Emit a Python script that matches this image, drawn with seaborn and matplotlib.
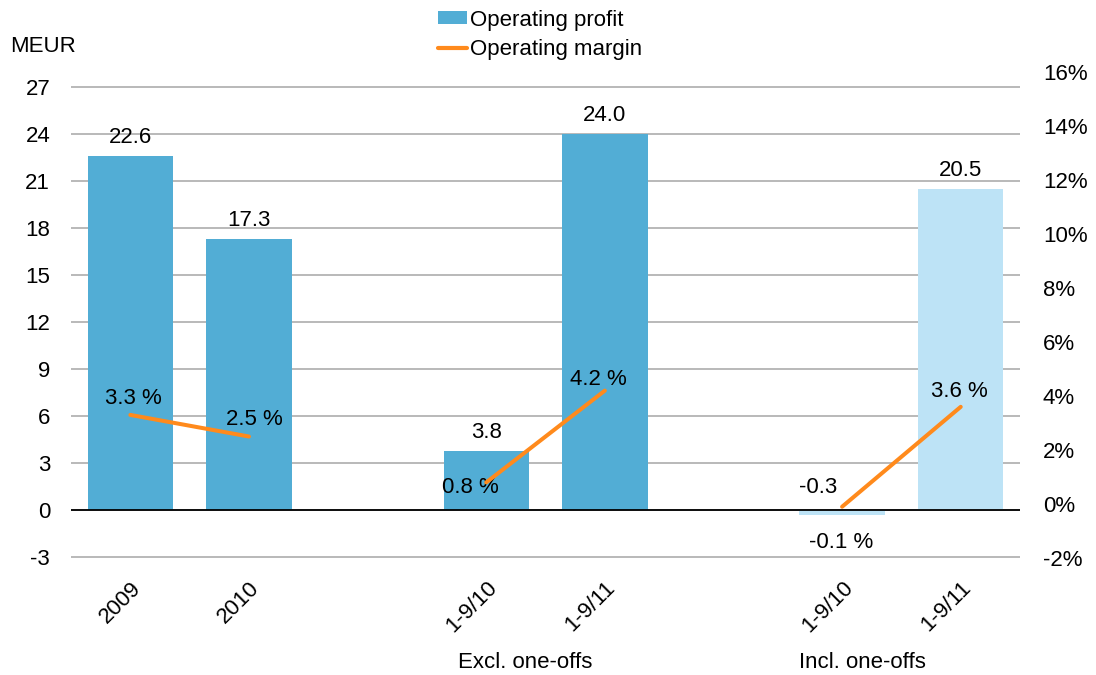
import matplotlib
matplotlib.use("Agg")
import matplotlib.pyplot as plt
from matplotlib.patches import Patch
from matplotlib.lines import Line2D
import numpy as np
import pandas as pd
import seaborn as sns

# --- data -------------------------------------------------------------
slots = [0, 1, 3, 4, 6, 7]                       # category positions (2 and 5 are gaps)
period_labels = ["2009", "2010", "1-9/10", "1-9/11", "1-9/10", "1-9/11"]
groups = ["year", "year", "excl", "excl", "incl", "incl"]
operating_profit = [22.6, 17.3, 3.8, 24.0, -0.3, 20.5]   # MEUR
operating_margin = [3.3, 2.5, 0.8, 4.2, -0.1, 3.6]       # %
group_titles = ["Excl. one-offs", "Incl. one-offs"]
left_ticks = [-3, 0, 3, 6, 9, 12, 15, 18, 21, 24, 27]
right_ticks = [-2, 0, 2, 4, 6, 8, 10, 12, 14, 16]

DARK_BLUE = "#52ADD5"
LIGHT_BLUE = "#BDE3F6"
ORANGE = "#FF8A1C"
GRID = "#A6A6A6"

bar_colors = [DARK_BLUE, DARK_BLUE, DARK_BLUE, DARK_BLUE, LIGHT_BLUE, LIGHT_BLUE]

df = pd.DataFrame({
    "slot": slots,
    "label": period_labels,
    "group": groups,
    "profit": operating_profit,
    "margin": operating_margin,
})
df["key"] = [f"{g}-{l}" for g, l in zip(groups, period_labels)]

# --- style ------------------------------------------------------------
sns.set_theme(style="white")
plt.rcParams["font.family"] = ["Liberation Sans", "DejaVu Sans"]
plt.rcParams["font.size"] = 16
plt.rcParams["text.color"] = "black"

fig = plt.figure(figsize=(10.96, 6.75), dpi=100)
ax = fig.add_axes([0.0648, 0.1733, 0.8659, 0.72])

# --- bars (left axis) ---------------------------------------------------
sns.barplot(data=df, x="slot", y="profit", hue="key", palette=bar_colors,
            native_scale=True, width=0.72, dodge=False, legend=False,
            saturation=1, edgecolor="none", ax=ax)

ax.set_xlim(-0.5, 7.5)
ax.set_ylim(-3.05, 27.95)
ax.set_yticks(left_ticks)
ax.set_yticklabels([str(t) for t in left_ticks], fontsize=16, color="black")
ax.yaxis.grid(True, color=GRID, linewidth=1.1)
ax.set_axisbelow(True)
ax.axhline(0, color="black", linewidth=1.3, zorder=3)
for s in ax.spines.values():
    s.set_visible(False)
ax.tick_params(axis="y", length=0, pad=15)
ax.tick_params(axis="x", length=0, pad=14)
ax.set_xticks(slots)
ax.set_xticklabels(period_labels, rotation=45, ha="right",
                   rotation_mode="anchor", fontsize=16, color="black")
ax.set_xlabel("")
ax.set_ylabel("")

# bar value labels
bar_label_dx = [0, 0, 0, 0, -0.2, 0]
for s, v, dx in zip(slots, operating_profit, bar_label_dx):
    base = max(v, 0)
    ax.annotate(f"{v:.1f}", xy=(s + dx, base), xytext=(0, 13 if v >= 0 else 16),
                textcoords="offset points", ha="center", va="center",
                fontsize=16)

# --- margin line (right axis) ---------------------------------------------
ax2 = ax.twinx()
sns.lineplot(data=df, x="slot", y="margin", units="group", estimator=None,
             color=ORANGE, linewidth=2.9, solid_capstyle="round",
             ax=ax2, zorder=4)
ax2.set_ylim(-2, 16)
ax2.set_yticks(right_ticks)
ax2.set_yticklabels([f"{t}%" for t in right_ticks], fontsize=16, color="black")
ax2.tick_params(axis="y", length=0, pad=16.5)
ax2.set_xlim(-0.5, 7.5)
ax2.set_ylabel("")
ax2.set_xlabel("")
ax2.grid(False)
for s in ax2.spines.values():
    s.set_visible(False)

# margin value labels (offsets in points)
margin_offsets = [(2, 12), (4, 12), (-11.5, -3.6), (-5, 8), (-1, -26), (-1, 11)]
for s, m, (dx, dy) in zip(slots, operating_margin, margin_offsets):
    ax2.annotate(f"{m:.1f} %", xy=(s, m), xytext=(dx, dy),
                 textcoords="offset points", ha="center", va="center",
                 fontsize=16)

# group titles under the period labels
for x, title in zip([3.33, 6.17], group_titles):
    ax.text(x, -0.214, title, transform=ax.get_xaxis_transform(),
            ha="center", va="center", fontsize=16)

# unit label
fig.text(10 / 1096, 1 - 47 / 675, "MEUR", ha="left", va="center", fontsize=16)

# legend
handles = [Patch(facecolor=DARK_BLUE, edgecolor="none"),
           Line2D([0], [0], color=ORANGE, linewidth=3.0)]
fig.legend(handles, ["Operating profit", "Operating margin"],
           loc="center", bbox_to_anchor=(540 / 1096, 1 - 35 / 675),
           frameon=False, fontsize=16, handlelength=1.3, handleheight=0.55,
           handletextpad=0.15, labelspacing=0.4, borderpad=0)

fig.savefig("out.png", dpi=100)
